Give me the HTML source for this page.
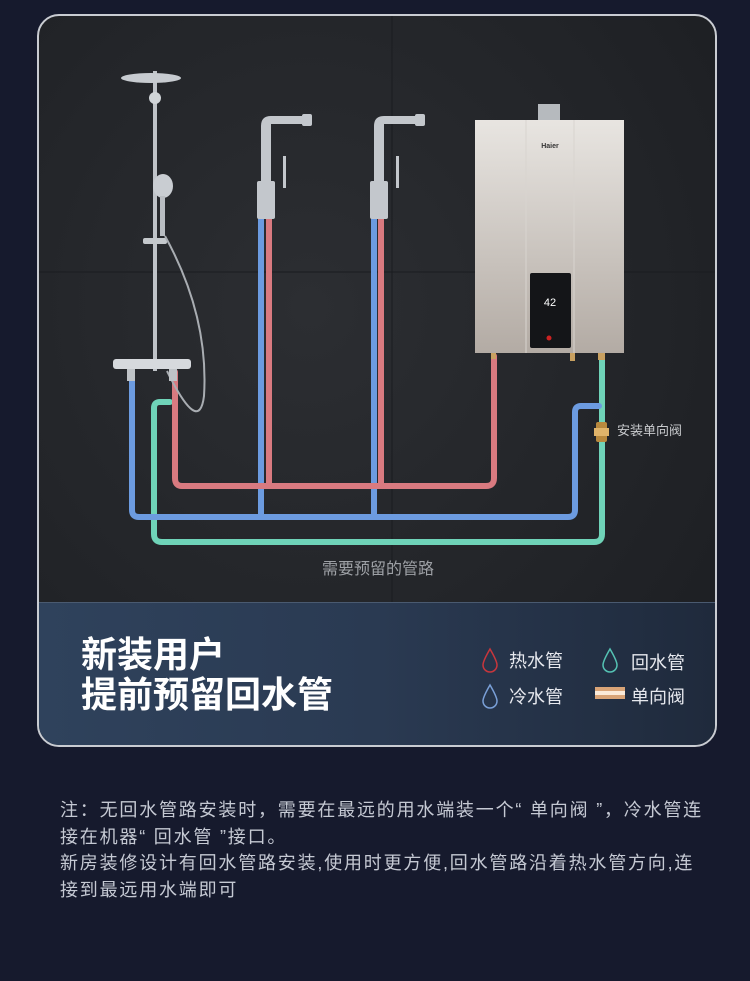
<!DOCTYPE html>
<html><head><meta charset="utf-8"><style>
body{margin:0;width:750px;height:981px;background:#161a2d;font-family:"Liberation Sans","Noto Sans CJK SC",sans-serif;overflow:hidden;position:relative}
.card{position:absolute;left:37px;top:14px;width:676px;height:729px;border:2px solid #c9ccd2;border-radius:22px;overflow:hidden;background:radial-gradient(ellipse at 40% 40%,#2c2e32 0%,#222428 60%,#1b1d21 100%)}
.panel{position:absolute;left:0;top:586px;width:676px;height:143px;background:linear-gradient(90deg,#2f425c 0%,#2a3a52 50%,#1f2a3c 100%);border-top:1px solid #4a5a70}
.title{position:absolute;left:42px;top:32px;color:#fff;font-weight:bold;font-size:36px;line-height:40px}
.lg{position:absolute;color:#e6e8ee;font-size:18px}
.note{position:absolute;left:60px;top:797px;width:690px;color:#c5c9d3;font-size:18px;letter-spacing:1.8px;line-height:26.5px;white-space:nowrap}
</style></head><body>
<div class="card">
<svg width="676" height="586" style="position:absolute;left:0;top:0">
<line x1="353" y1="0" x2="353" y2="586" stroke="#1a1c20" stroke-width="1"/>
<line x1="0" y1="256" x2="676" y2="256" stroke="#1a1c20" stroke-width="1"/>
<g fill="none" stroke-width="6" stroke-linecap="round" stroke-linejoin="round">
<path d="M563 340 V518 Q563 526 555 526 H123 Q115 526 115 518 V392 Q115 386 121 386 H131" stroke="#6fd3b8"/>
<path d="M560 390 H542 Q536 390 536 396 V494 Q536 501 529 501 H100 Q93 501 93 494 V356" stroke="#6c9be0"/>
<path d="M222 200 V501 M335 200 V501" stroke="#6c9be0"/>
<path d="M455 340 V462 Q455 470 447 470 H143 Q136 470 136 462 V356" stroke="#d97a80"/>
<path d="M230 200 V470 M342 200 V470" stroke="#d97a80"/>
</g>
<rect x="557" y="406" width="11" height="20" rx="2" fill="#b8893e"/>
<rect x="555" y="412" width="15" height="8" fill="#e0b46a"/>
<rect x="114" y="55" width="4" height="300" fill="#bfc3c8"/>
<ellipse cx="112" cy="62" rx="30" ry="5" fill="#c7cbd0"/>
<circle cx="116" cy="82" r="6" fill="#d0d4d8"/>
<ellipse cx="124" cy="170" rx="10" ry="12" fill="#c9cdd2"/>
<rect x="121" y="180" width="5" height="40" fill="#b9bdc2"/>
<rect x="104" y="222" width="24" height="6" rx="2" fill="#c4c8cc"/>
<path d="M128 355 Q160 420 165 380 Q170 300 126 220" fill="none" stroke="#a9adb2" stroke-width="2"/>
<rect x="74" y="343" width="78" height="10" rx="3" fill="#d6d9dd"/>
<rect x="88" y="353" width="8" height="12" fill="#bfc3c7"/>
<rect x="130" y="353" width="8" height="12" fill="#bfc3c7"/>
<g fill="#c3c7cc">
<path d="M222 165 V110 Q222 100 232 100 H268 V108 H232 V165Z"/><rect x="263" y="98" width="10" height="12" rx="2"/><rect x="218" y="165" width="18" height="38" rx="2"/><rect x="244" y="140" width="3" height="32"/>
<path d="M335 165 V110 Q335 100 345 100 H381 V108 H345 V165Z"/><rect x="376" y="98" width="10" height="12" rx="2"/><rect x="331" y="165" width="18" height="38" rx="2"/><rect x="357" y="140" width="3" height="32"/>
</g>
<rect x="499" y="88" width="22" height="16" fill="#b6babe"/>
<defs><linearGradient id="h" x1="0" y1="0" x2="0" y2="1"><stop offset="0" stop-color="#e8e5e1"/><stop offset="1" stop-color="#b3aba4"/></linearGradient></defs>
<rect x="436" y="104" width="149" height="233" fill="url(#h)"/>
<line x1="487" y1="104" x2="487" y2="337" stroke="#d8d4cf"/>
<line x1="535" y1="104" x2="535" y2="337" stroke="#d8d4cf"/>
<text x="511" y="132" font-size="7" font-weight="bold" fill="#333" text-anchor="middle" font-family="Liberation Sans">Haier</text>
<rect x="491" y="257" width="41" height="75" rx="2" fill="#141518"/>
<text x="511" y="290" font-size="11" fill="#fff" text-anchor="middle" font-family="Liberation Sans">42</text>
<circle cx="510" cy="322" r="2.5" fill="#c22"/>
<rect x="452" y="337" width="5" height="6" fill="#c8a060"/>
<rect x="531" y="337" width="5" height="8" fill="#c8a060"/>
<rect x="559" y="337" width="7" height="7" fill="#c8a060"/>
<text x="578" y="419" font-size="13" fill="#c8cacd">安装单向阀</text>
<text x="339" y="558" font-size="16" fill="#9ea1a6" text-anchor="middle">需要预留的管路</text>
</svg>
<div class="panel">
<div class="title">新装用户<br>提前预留回水管</div>
<svg width="676" height="143" style="position:absolute;left:0;top:0">
<g fill="none" stroke-width="1.5"><path d="M451 46 Q444 58 444 62 A7 7 0 0 0 458 62 Q458 58 451 46Z" stroke="#c8363c"/>
<path d="M571 46 Q564 58 564 62 A7 7 0 0 0 578 62 Q578 58 571 46Z" stroke="#55c3b4"/>
<path d="M451 82 Q444 94 444 98 A7 7 0 0 0 458 98 Q458 94 451 82Z" stroke="#7aa0d8"/></g>
<rect x="556" y="84" width="30" height="12" fill="#d9a477"/><rect x="556" y="88" width="30" height="4" fill="#fbead8"/>
</svg>
<div class="lg" style="left:470px;top:44px">热水管</div>
<div class="lg" style="left:592px;top:46px">回水管</div>
<div class="lg" style="left:470px;top:80px">冷水管</div>
<div class="lg" style="left:592px;top:80px">单向阀</div>
</div>
</div>
<div class="note">注：无回水管路安装时，需要在最远的用水端装一个“ 单向阀 ”，冷水管连<br>接在机器“ 回水管 ”接口。<br>新房装修设计有回水管路安装,使用时更方便,回水管路沿着热水管方向,连<br>接到最远用水端即可</div>
</body></html>
